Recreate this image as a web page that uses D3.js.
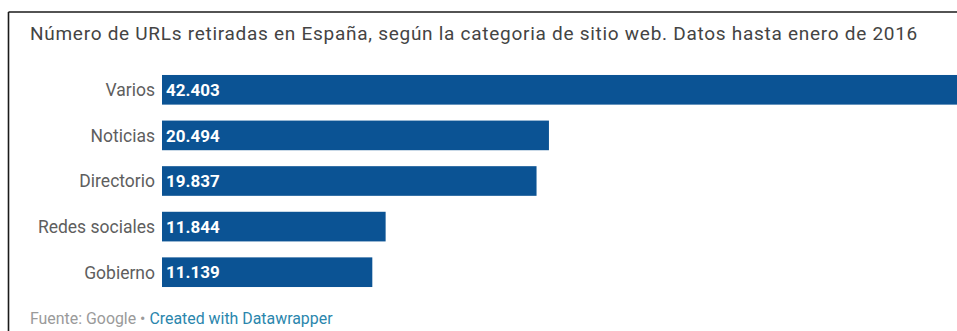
<!DOCTYPE html>
<html>
<head>
<meta charset="utf-8">
<script src="https://cdn.jsdelivr.net/npm/d3@7"></script>
<style>
  html, body { margin: 0; padding: 0; background: #fff; }
  svg { display: block; font-family: Roboto, "Noto Sans", sans-serif; }
</style>
</head>
<body>
<svg id="chart" width="957" height="331"></svg>
<script>
// URLs retiradas por categoría de sitio web
const categories = ["Varios", "Noticias", "Directorio", "Redes sociales", "Gobierno"];
const values = [42403, 20494, 19837, 11844, 11139];
const valueLabels = ["42.403", "20.494", "19.837", "11.844", "11.139"];

const title = "Número de URLs retiradas en España, según la categoria de sitio web. Datos hasta enero de 2016";
const source = "Fuente: Google • ";
const credit = "Created with Datawrapper";

const svg = d3.select("#chart");
const W = 957, H = 331;

// Frame: top and left rules
svg.append("line").attr("x1", 8.5).attr("x2", W).attr("y1", 12).attr("y2", 12)
  .attr("stroke", "#1a1a1a").attr("stroke-width", 1.6);
svg.append("line").attr("x1", 8.5).attr("x2", 8.5).attr("y1", 12).attr("y2", H)
  .attr("stroke", "#1a1a1a").attr("stroke-width", 1.6);

// Title, spread to span the header width
const titleText = svg.append("text")
  .attr("x", 30).attr("y", 40)
  .attr("fill", "#444")
  .attr("font-size", 19)
  .text(title);
const natural = titleText.node().getComputedTextLength();
titleText.attr("letter-spacing", Math.max(0, (888 - natural) / title.length));

const x = d3.scaleLinear().domain([0, d3.max(values)]).range([162, 962.6]);
const y = d3.scaleBand().domain(categories).range([67, 295]).paddingInner(0.35).paddingOuter(0.175);

const rows = svg.append("g").selectAll("g")
  .data(categories.map((c, i) => ({ c, v: values[i], l: valueLabels[i] })))
  .join("g");

rows.append("rect")
  .attr("x", x(0))
  .attr("y", d => y(d.c))
  .attr("width", d => x(d.v) - x(0))
  .attr("height", y.bandwidth())
  .attr("fill", "#0b5394");

rows.append("text")
  .attr("x", x(0) - 7)
  .attr("y", d => y(d.c) + y.bandwidth() / 2)
  .attr("dy", "0.36em")
  .attr("text-anchor", "end")
  .attr("fill", "#5e5e5e")
  .attr("font-size", 17.5)
  .text(d => d.c);

rows.append("text")
  .attr("x", x(0) + 4)
  .attr("y", d => y(d.c) + y.bandwidth() / 2)
  .attr("dy", "0.36em")
  .attr("fill", "#fff")
  .attr("font-weight", "bold")
  .attr("font-size", 17)
  .text(d => d.l);

const foot = svg.append("text")
  .attr("x", 30).attr("y", 324)
  .attr("font-size", 15.9);
foot.append("tspan").attr("fill", "#9a9a9a").text(source);
foot.append("tspan").attr("fill", "#2a86ad").text(credit);
</script>
</body>
</html>
